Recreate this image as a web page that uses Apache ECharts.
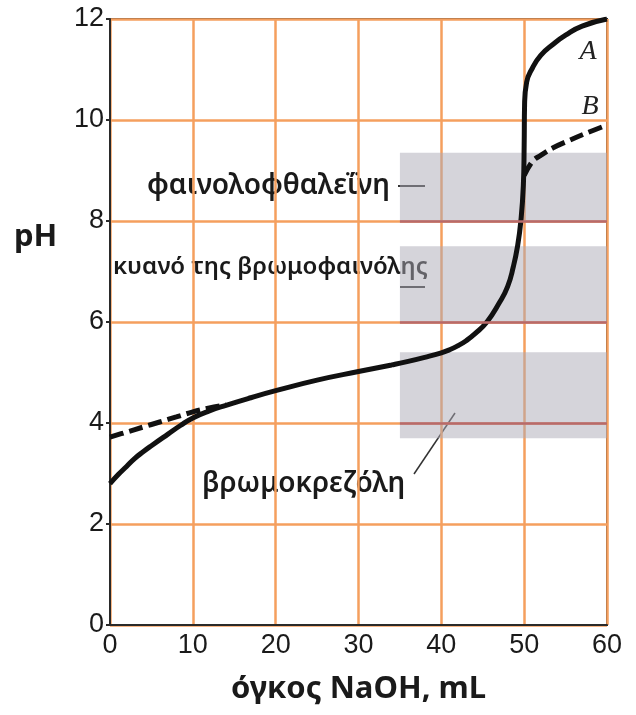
<!DOCTYPE html>
<html><head><meta charset="utf-8">
<script src="https://cdn.jsdelivr.net/npm/echarts@6/dist/echarts.min.js"></script>
<style>html,body{margin:0;padding:0;background:#fff}#c{width:636px;height:715px}</style>
</head><body><div id="c"></div>
<script>
// ---- data ----
const xTicks = [0, 10, 20, 30, 40, 50, 60];
const yTicks = [0, 2, 4, 6, 8, 10, 12];
const curveA = [[0,2.8],[1,2.98],[2,3.14],[3,3.3],[4,3.43],[5,3.55],[7,3.78],[8.5,3.95],[10,4.1],[12,4.24],[14,4.35],[17,4.5],[20,4.64],[25,4.85],[30,5.02],[34,5.15],[36,5.22],[38,5.3],[40,5.39],[41,5.45],[42,5.53],[43,5.63],[44,5.76],[45.5,6.0],[47,6.38],[48,6.7],[48.7,7.1],[49.2,7.5],[49.6,8.0],[49.9,8.7],[50,9.5],[50.05,10.3],[50.3,10.75],[51,11.03],[52,11.28],[53.5,11.5],[55,11.68],[57,11.86],[60,12.0]];
const curveBLow = [[0,3.72],[2,3.82],[4,3.92],[6,4.02],[8,4.12],[10,4.22],[12,4.3],[14,4.36]];
const curveBHigh = [[50.0,8.9],[51,9.18],[52,9.3],[53.5,9.45],[55.5,9.6],[57.5,9.74],[60,9.9]];
const indicatorNames = ['φαινολοφθαλεΐνη', 'κυανό της βρωμοφαινόλης', 'βρωμοκρεζόλη'];
const indicatorLow = [8.0, 6.0, 3.7];
const indicatorHigh = [9.35, 7.5, 5.4];
const bandFrom = 35, bandTo = 60;
const curveLabels = ['A', 'B'];

// ---- chart ----
const chart = echarts.init(document.getElementById('c'), null, {renderer: 'canvas'});
const orange = '#f59f5e';
const bandAreas = indicatorLow.map((lo, i) => [{coord: [bandFrom, lo]}, {coord: [bandTo, indicatorHigh[i]]}]);
const bandLines = [];
indicatorLow.forEach((lo, i) => {
  yTicks.forEach(t => { if (t >= lo && t <= indicatorHigh[i]) bandLines.push([{coord: [bandFrom, t]}, {coord: [bandTo, t]}]); });
});
const font = '"Liberation Sans", Arial, sans-serif';
const gfont = '"Noto Sans", "DejaVu Sans", sans-serif';

chart.setOption({
  animation: false,
  backgroundColor: '#fff',
  grid: {left: 110, right: 29, top: 19, bottom: 90, show: true, borderColor: '#2a2a2a', borderWidth: 2, backgroundColor: 'transparent'},
  xAxis: {
    type: 'value', min: 0, max: 60, interval: 10,
    axisLine: {show: true, onZero: false, lineStyle: {color: '#2a2a2a', width: 2}},
    axisTick: {show: false},
    splitLine: {show: true, lineStyle: {color: orange, width: 2.5}},
    axisLabel: {fontFamily: font, fontSize: 27, color: '#1a1a1a', margin: 7,
      formatter: v => xTicks.includes(v) ? String(v) : ''},
    name: 'όγκος NaOH, mL', nameLocation: 'middle', nameGap: 49,
    nameTextStyle: {fontFamily: gfont, fontSize: 31, fontWeight: 'bold', color: '#1a1a1a'}
  },
  yAxis: {
    type: 'value', min: 0, max: 12, interval: 2,
    axisLine: {show: true, onZero: false, lineStyle: {color: '#2a2a2a', width: 2}},
    axisTick: {show: true, length: 4, lineStyle: {color: '#2a2a2a', width: 2}},
    splitLine: {show: true, lineStyle: {color: orange, width: 2.5}},
    axisLabel: {fontFamily: font, fontSize: 27, color: '#1a1a1a', margin: 6,
      formatter: v => yTicks.includes(v) ? String(v) : ''}
  },
  series: [
    {
      type: 'line', data: [], silent: true,
      markArea: {silent: true, itemStyle: {color: 'rgba(172,170,182,0.5)'}, data: bandAreas},
      markLine: {silent: true, symbol: 'none', label: {show: false},
        lineStyle: {color: '#b86a6a', width: 2.5, type: 'solid'}, data: bandLines}
    },
    {type: 'line', name: 'B', data: curveBLow, showSymbol: false, smooth: 0.4,
      lineStyle: {color: '#111', width: 5, type: [14, 6]}, z: 3},
    {type: 'line', name: 'B', data: curveBHigh, showSymbol: false, smooth: 0.4,
      lineStyle: {color: '#111', width: 5, type: [14, 6]}, z: 3},
    {type: 'line', name: 'A', data: curveA, showSymbol: false, smooth: 0.5,
      lineStyle: {color: '#111', width: 5}, z: 4}
  ],
  graphic: [
    {type: 'text', left: 14, top: 222, style: {text: 'pH', font: 'bold 31px ' + gfont, fill: '#1a1a1a'}},
    {type: 'text', left: 147, top: 172, style: {text: indicatorNames[0], font: '600 28px ' + gfont, fill: '#1a1a1a'}},
    {type: 'text', left: 113, top: 255, style: {text: indicatorNames[1], font: '600 24px ' + gfont, fill: '#1a1a1a'}},
    {type: 'text', left: 202, top: 470, style: {text: indicatorNames[2], font: '600 28px ' + gfont, fill: '#1a1a1a'}},
    {type: 'line', shape: {x1: 398, y1: 186, x2: 425, y2: 186}, style: {stroke: '#333', lineWidth: 2}},
    {type: 'line', shape: {x1: 400, y1: 287, x2: 425, y2: 287}, style: {stroke: '#333', lineWidth: 2}},
    {type: 'line', shape: {x1: 414, y1: 474, x2: 455, y2: 413}, style: {stroke: '#333', lineWidth: 1.5}},
    {type: 'text', x: 588, y: 52, style: {text: curveLabels[0], font: 'italic 28px "Liberation Serif", serif', fill: '#222', align: 'center', verticalAlign: 'middle'}},
    {type: 'text', x: 590, y: 107, style: {text: curveLabels[1], font: 'italic 28px "Liberation Serif", serif', fill: '#222', align: 'center', verticalAlign: 'middle'}}
  ]
});
</script></body></html>
